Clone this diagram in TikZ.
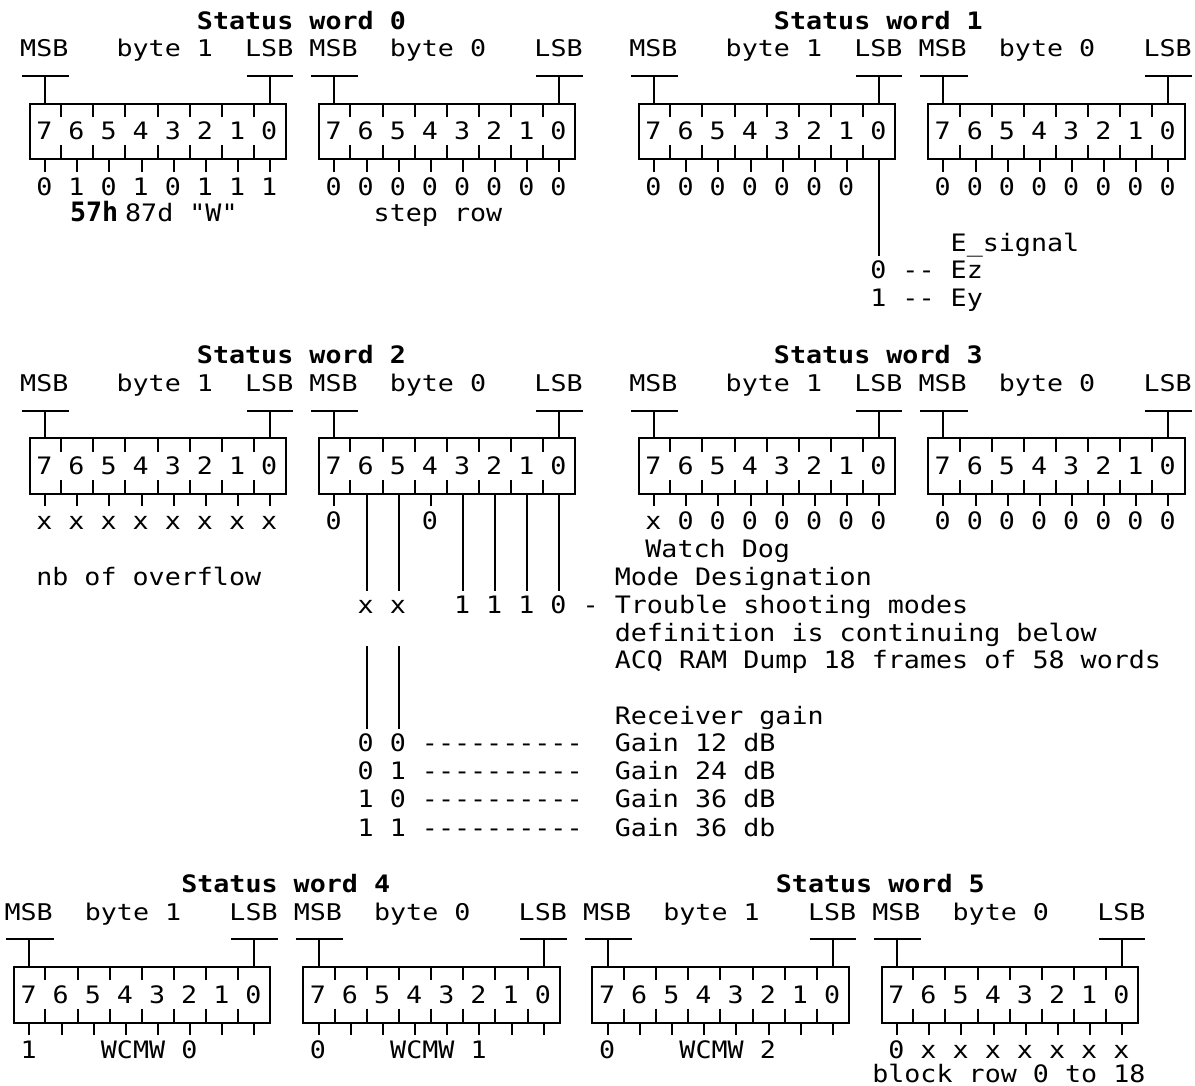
\documentclass[tikz,border=0pt]{standalone}
\usepackage{fontspec}
\setmonofont{DejaVu Sans Mono}
\newfontfamily\bodyfont{DejaVu Sans Mono}[FakeStretch=1.112]
\newfontfamily\hdrfont{DejaVu Sans Mono}[FakeStretch=1.16]
\usepackage{tikz}

\tikzset{
  txt/.style={anchor=base west,inner sep=0pt,outer sep=0pt,
    font=\bodyfont\fontsize{12pt}{13.85pt}\selectfont},
  hdr/.style={txt,font=\hdrfont\fontsize{11.5pt}{13.85pt}\selectfont},
  ttl/.style={txt,font=\bodyfont\bfseries\fontsize{12pt}{13.85pt}\selectfont},
  hexb/.style={txt,font=\ttfamily\bfseries\fontsize{13.35pt}{13.85pt}\selectfont},
  wire/.style={line width=1pt},
  cols/.style={x=8.035pt,y=-13.85pt},
  bytebox/.pic={
    \draw[wire] (0.12,2) -- (3.05,2) (1.55,2) -- (1.55,3);
    \draw[wire] (14.1,2) -- (17,2) (15.55,2) -- (15.55,3);
    \draw[wire] (0.58,3) rectangle (16.55,5);
    \foreach \k in {2,4,...,14}
      \draw[wire] (\k+0.55,3) -- (\k+0.55,3.48) (\k+0.55,4.5) -- (\k+0.55,5);
    \node[txt] (-bits) at (1,4.3) {7 6 5 4 3 2 1 0};
  }
}

\begin{document}
\begin{tikzpicture}[line cap=butt,line join=miter]
  \useasboundingbox (0pt,0pt) rectangle (597.5pt,-543pt);

  % status word 0
  \begin{scope}[shift={(10.1pt,-10.35pt)},cols]
    \node[ttl] (sw0) at (11,0.3) {Status word 0};
    \node[hdr] (sw0msb1) at (0,1.3) {MSB};
    \node[hdr] (sw0byte1) at (6,1.3) {byte 1};
    \node[hdr] (sw0lsb1) at (14,1.3) {LSB};
    \node[hdr] (sw0msb0) at (18,1.3) {MSB};
    \node[hdr] (sw0byte0) at (23,1.3) {byte 0};
    \node[hdr] (sw0lsb0) at (32,1.3) {LSB};
    \pic (sw0b1) at (0,0) {bytebox};
    \pic (sw0b0) at (18,0) {bytebox};
    \foreach \b in {0,18}
      \foreach \j in {1,3,...,15}
        \draw[wire] (\b+\j+0.55,5) -- (\b+\j+0.55,5.45);
    \node[txt] (sw0v1) at (1,6.3) {0 1 0 1 0 1 1 1};
    \node[txt] (sw0v0) at (19,6.3) {0 0 0 0 0 0 0 0};
    \node[hexb] (sw0hex) at (3.1,7.25) {57h};
    \node[txt] (sw0dec) at (6.53,7.25) {87d "W"};
    \node[txt] (sw0step) at (22,7.25) {step row};
  \end{scope}

  % status word 1
  \begin{scope}[shift={(314.65pt,-10.35pt)},cols]
    \node[ttl] (sw1) at (9,0.3) {Status word 1};
    \node[hdr] (sw1msb1) at (0,1.3) {MSB};
    \node[hdr] (sw1byte1) at (6,1.3) {byte 1};
    \node[hdr] (sw1lsb1) at (14,1.3) {LSB};
    \node[hdr] (sw1msb0) at (18,1.3) {MSB};
    \node[hdr] (sw1byte0) at (23,1.3) {byte 0};
    \node[hdr] (sw1lsb0) at (32,1.3) {LSB};
    \pic (sw1b1) at (0,0) {bytebox};
    \pic (sw1b0) at (18,0) {bytebox};
    \foreach \j in {1,3,...,13,19,21,...,33}
      \draw[wire] (\j+0.55,5) -- (\j+0.55,5.45);
    \coordinate (esig) at (15.55,8.5);
    \draw[wire] (15.55,5) -- (esig);
    \node[txt] (sw1v1) at (1,6.3) {0 0 0 0 0 0 0};
    \node[txt] (sw1v0) at (19,6.3) {0 0 0 0 0 0 0 0};
    \node[txt] (sw1sig) at (20,8.32) {E\_signal};
    \node[txt] (sw1ez) at (15,9.32) {0 -- Ez};
    \node[txt] (sw1ey) at (15,10.32) {1 -- Ey};
  \end{scope}

  % status word 2
  \begin{scope}[shift={(10.1pt,-177.65pt)},cols]
    \node[ttl] (sw2) at (11,0.3) {Status word 2};
    \node[hdr] (sw2msb1) at (0,1.3) {MSB};
    \node[hdr] (sw2byte1) at (6,1.3) {byte 1};
    \node[hdr] (sw2lsb1) at (14,1.3) {LSB};
    \node[hdr] (sw2msb0) at (18,1.3) {MSB};
    \node[hdr] (sw2byte0) at (23,1.3) {byte 0};
    \node[hdr] (sw2lsb0) at (32,1.3) {LSB};
    \pic (sw2b1) at (0,0) {bytebox};
    \pic (sw2b0) at (18,0) {bytebox};
    \foreach \j in {1,3,...,15,19,25}
      \draw[wire] (\j+0.55,5) -- (\j+0.55,5.45);
    \foreach \j in {21,23,27,29,31,33}
      \draw[wire] (\j+0.55,5) -- (\j+0.55,8.5);
    \foreach \j in {21,23}
      \draw[wire] (\j+0.55,10.5) -- (\j+0.55,13.5);
    \node[txt] (sw2v1) at (1,6.3) {x x x x x x x x};
    \node[txt] (sw2b7) at (19,6.3) {0};
    \node[txt] (sw2b4) at (25,6.3) {0};
    \node[txt] (sw2ovf) at (1,8.32) {nb of overflow};
    \node[txt] (sw2mode) at (37,8.32) {Mode Designation};
    \node[txt] (sw2xx) at (21,9.32) {x x};
    \node[txt] (sw2trb) at (27,9.32) {1 1 1 0 - Trouble shooting modes};
    \node[txt] (sw2def) at (37,10.32) {definition is continuing below};
    \node[txt] (sw2acq) at (37,11.32) {ACQ RAM Dump 18 frames of 58 words};
    \node[txt] (sw2rcv) at (37,13.32) {Receiver gain};
    \node[txt] (sw2g00) at (21,14.32) {0 0 ----------};
    \node[txt] (sw2g01) at (21,15.32) {0 1 ----------};
    \node[txt] (sw2g10) at (21,16.32) {1 0 ----------};
    \node[txt] (sw2g11) at (21,17.37) {1 1 ----------};
    \node[txt] (sw2gain12) at (37,14.32) {Gain 12 dB};
    \node[txt] (sw2gain24) at (37,15.32) {Gain 24 dB};
    \node[txt] (sw2gain36) at (37,16.32) {Gain 36 dB};
    \node[txt] (sw2gain36b) at (37,17.37) {Gain 36 db};
  \end{scope}

  % status word 3
  \begin{scope}[shift={(314.65pt,-177.65pt)},cols]
    \node[ttl] (sw3) at (9,0.3) {Status word 3};
    \node[hdr] (sw3msb1) at (0,1.3) {MSB};
    \node[hdr] (sw3byte1) at (6,1.3) {byte 1};
    \node[hdr] (sw3lsb1) at (14,1.3) {LSB};
    \node[hdr] (sw3msb0) at (18,1.3) {MSB};
    \node[hdr] (sw3byte0) at (23,1.3) {byte 0};
    \node[hdr] (sw3lsb0) at (32,1.3) {LSB};
    \pic (sw3b1) at (0,0) {bytebox};
    \pic (sw3b0) at (18,0) {bytebox};
    \foreach \b in {0,18}
      \foreach \j in {1,3,...,15}
        \draw[wire] (\b+\j+0.55,5) -- (\b+\j+0.55,5.45);
    \node[txt] (sw3v1) at (1,6.3) {x 0 0 0 0 0 0 0};
    \node[txt] (sw3v0) at (19,6.3) {0 0 0 0 0 0 0 0};
    \node[txt] (sw3dog) at (1,7.3) {Watch Dog};
  \end{scope}

  % status words 4 and 5
  \begin{scope}[shift={(2.25pt,-442pt)},cols]
    \node[ttl] (sw4) at (11,0.3) {Status word 4};
    \node[ttl] (sw5) at (48,0.3) {Status word 5};
    \foreach \b/\lab in {0/byte 1,18/byte 0,36/byte 1,54/byte 0} {
      \node[hdr] (msb\b) at (\b,1.3) {MSB};
      \node[hdr] (byte\b) at (\b+5,1.3) {\lab};
      \node[hdr] (lsb\b) at (\b+14,1.3) {LSB};
      \pic (box\b) at (\b,0) {bytebox};
      \foreach \j in {1,3,...,15}
        \draw[wire] (\b+\j+0.55,5) -- (\b+\j+0.55,5.45);
    }
    \node[txt] (sw4h7) at (1,6.3) {1};
    \node[txt] (sw4hw) at (6,6.3) {WCMW};
    \node[txt] (sw4h2) at (11,6.3) {0};
    \node[txt] (sw4l7) at (19,6.3) {0};
    \node[txt] (sw4lw) at (24,6.3) {WCMW};
    \node[txt] (sw4l2) at (29,6.3) {1};
    \node[txt] (sw5h7) at (37,6.3) {0};
    \node[txt] (sw5hw) at (42,6.3) {WCMW};
    \node[txt] (sw5h2) at (47,6.3) {2};
    \node[txt] (sw5v0) at (55,6.3) {0 x x x x x x x};
    \node[txt] (sw5blk) at (54,7.15) {block row 0 to 18};
  \end{scope}
\end{tikzpicture}
\end{document}
